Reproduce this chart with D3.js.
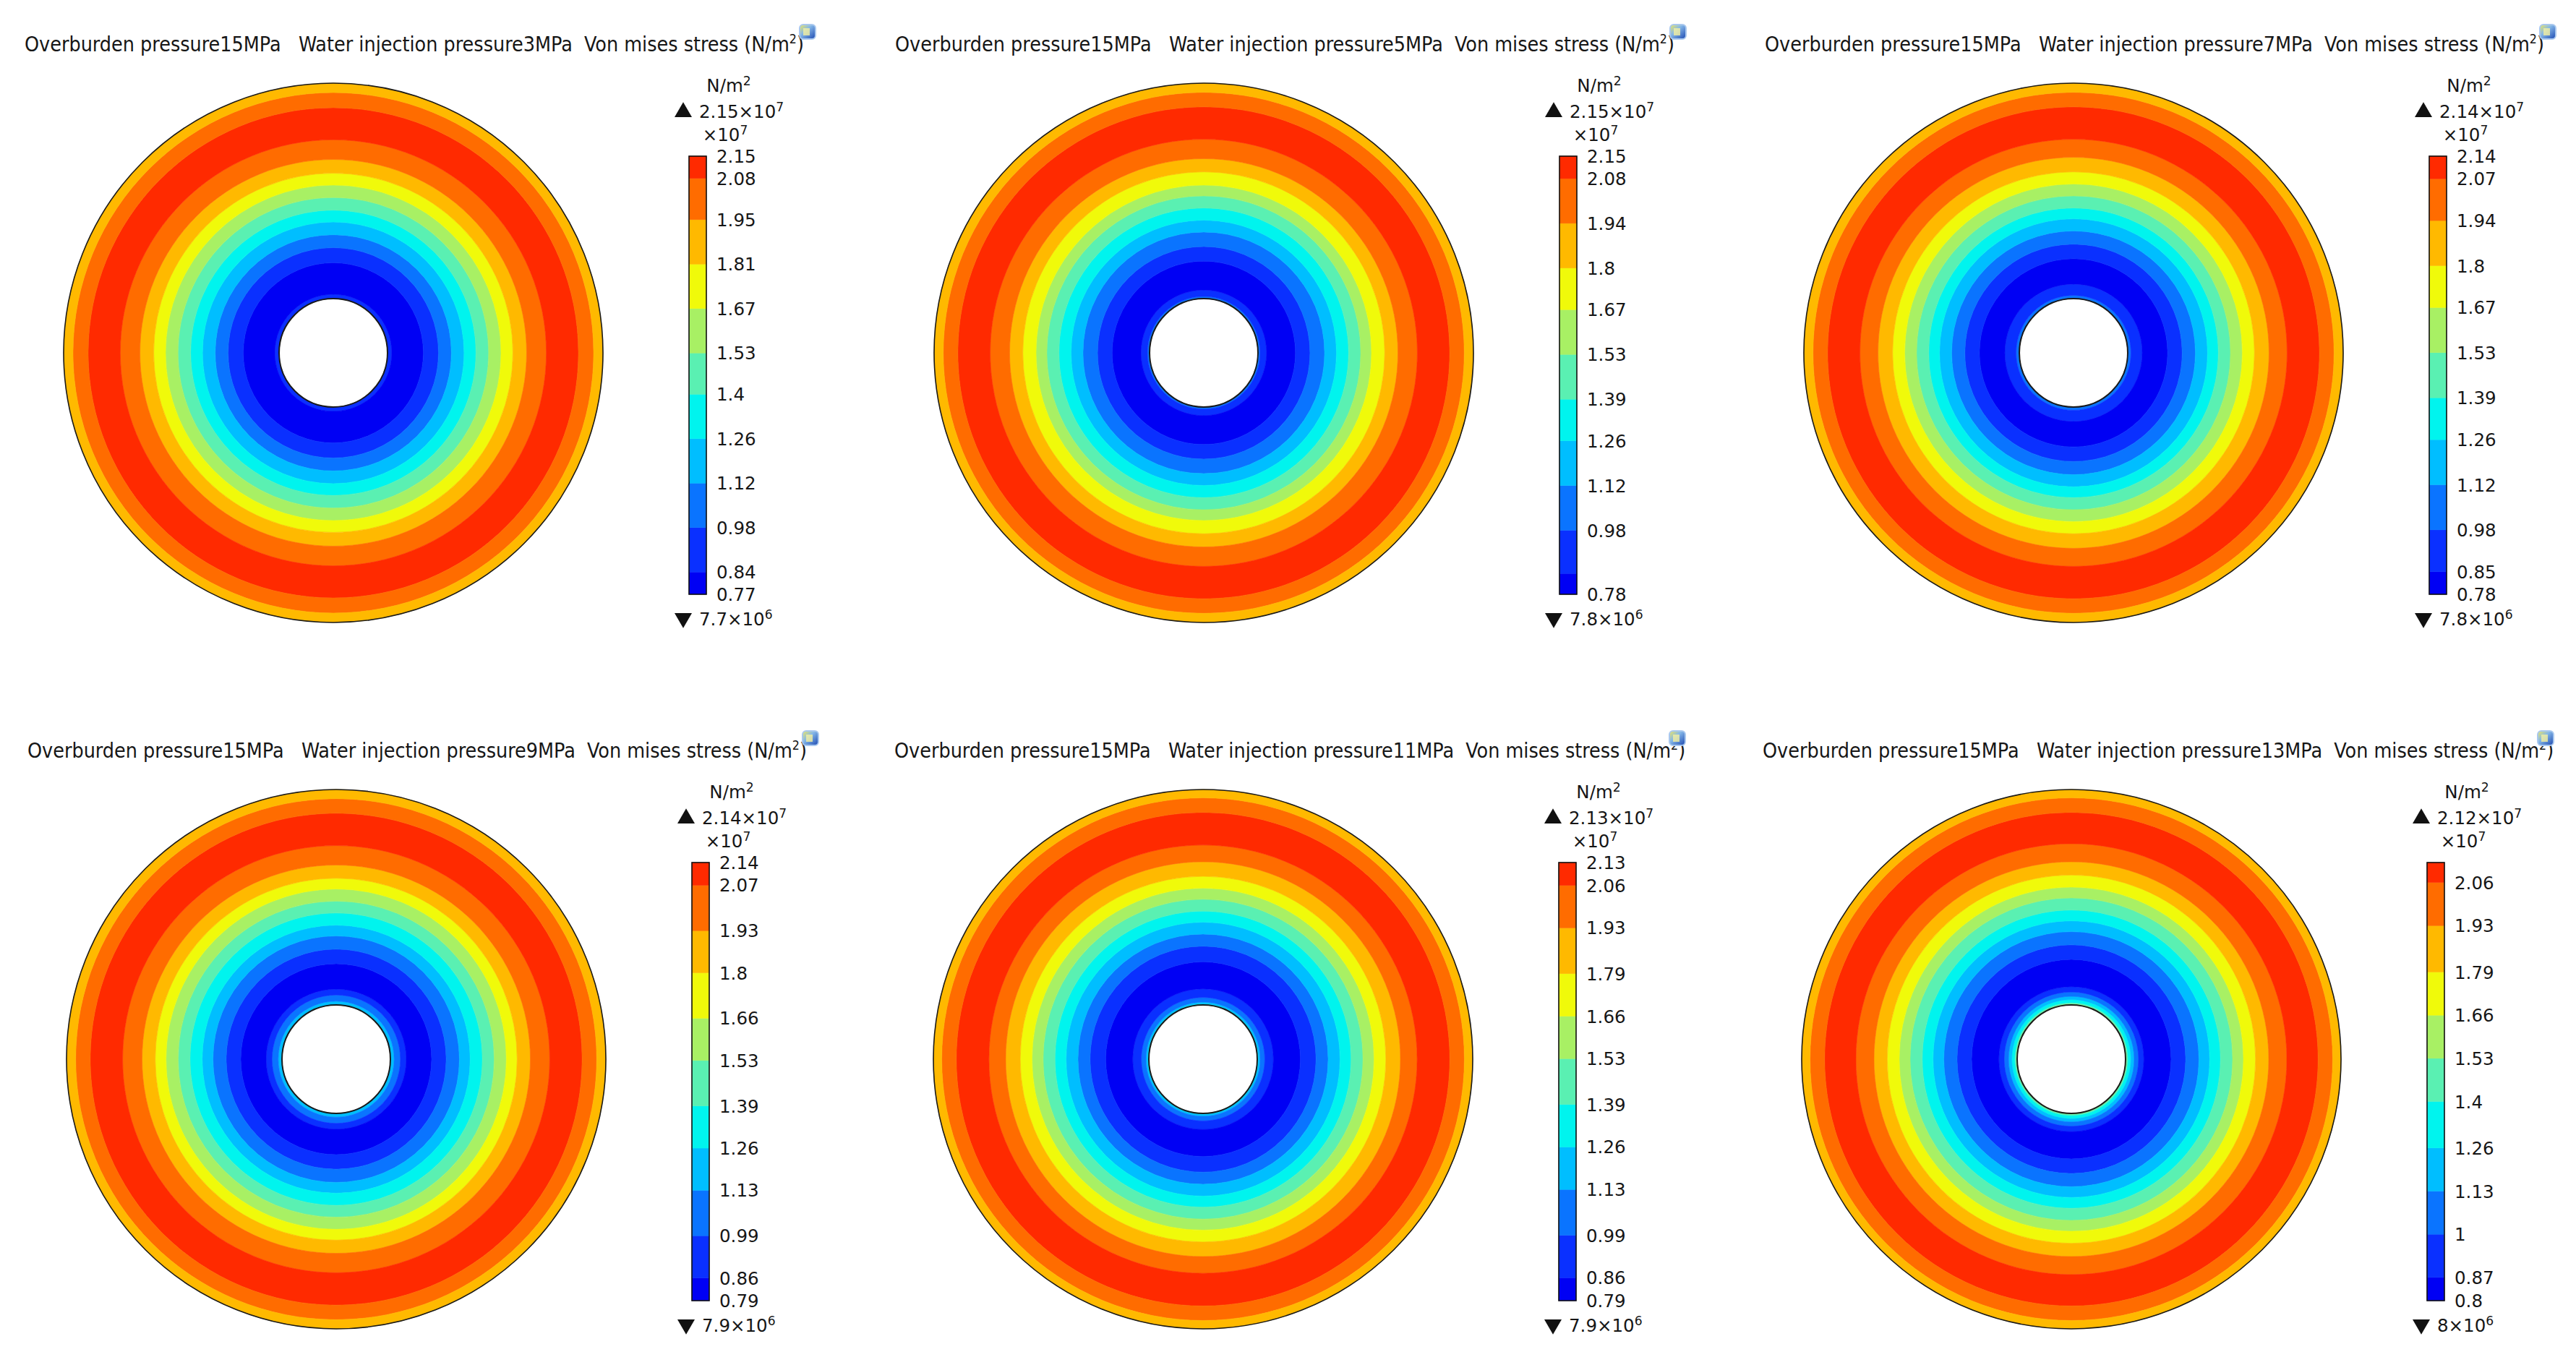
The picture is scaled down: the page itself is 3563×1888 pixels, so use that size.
<!DOCTYPE html>
<html>
<head>
<meta charset="utf-8">
<script src="https://cdn.jsdelivr.net/npm/d3@7"></script>
<style>
  html, body { margin: 0; padding: 0; background: #fff; }
  svg { display: block; }
  text { font-family: "DejaVu Sans", sans-serif; fill: #161616; }
  .title { font-family: "DejaVu Sans Condensed", "DejaVu Sans", sans-serif; font-stretch: condensed; font-size: 28.4px; white-space: pre; }
  .cb { font-size: 24.5px; }
</style>
</head>
<body>
<svg id="chart" width="3563" height="1888"></svg>
<script>
// overburden pressure and water injection pressure of each case (MPa)
const overburden = 15;
const injectionPressures = [3, 5, 7, 9, 11, 13];

// colour range of each plot (N/m^2)
const stressMax = [2.15e7, 2.15e7, 2.14e7, 2.14e7, 2.13e7, 2.12e7];
const stressMin = [7.7e6, 7.8e6, 7.8e6, 7.9e6, 7.9e6, 8e6];
const maxLabels = ["2.15", "2.15", "2.14", "2.14", "2.13", "2.12"];
const minLabels = ["7.7", "7.8", "7.8", "7.9", "7.9", "8"];

// contour levels (x10^7 N/m^2), 11 bands between min and max
const levels = [
  [0.84, 0.98, 1.12, 1.26, 1.40, 1.53, 1.67, 1.81, 1.95, 2.08],
  [0.845, 0.98, 1.12, 1.26, 1.39, 1.53, 1.67, 1.80, 1.94, 2.08],
  [0.85, 0.98, 1.12, 1.26, 1.39, 1.53, 1.67, 1.80, 1.94, 2.07],
  [0.86, 0.99, 1.13, 1.26, 1.39, 1.53, 1.66, 1.80, 1.93, 2.07],
  [0.86, 0.99, 1.13, 1.26, 1.39, 1.53, 1.66, 1.79, 1.93, 2.06],
  [0.87, 1.00, 1.13, 1.26, 1.40, 1.53, 1.66, 1.79, 1.93, 2.06],
];

// tick labels printed beside the colour bar
const tickLabels = [
  ["2.15", "2.08", "1.95", "1.81", "1.67", "1.53", "1.4", "1.26", "1.12", "0.98", "0.84", "0.77"],
  ["2.15", "2.08", "1.94", "1.8", "1.67", "1.53", "1.39", "1.26", "1.12", "0.98", "0.78"],
  ["2.14", "2.07", "1.94", "1.8", "1.67", "1.53", "1.39", "1.26", "1.12", "0.98", "0.85", "0.78"],
  ["2.14", "2.07", "1.93", "1.8", "1.66", "1.53", "1.39", "1.26", "1.13", "0.99", "0.86", "0.79"],
  ["2.13", "2.06", "1.93", "1.79", "1.66", "1.53", "1.39", "1.26", "1.13", "0.99", "0.86", "0.79"],
  ["2.06", "1.93", "1.79", "1.66", "1.53", "1.4", "1.26", "1.13", "1", "0.87", "0.8"],
];

// radial position of each contour edge (r / outer radius), hole edge first
const ringEdges = [
  [0.201, 0.217, 0.334, 0.390, 0.438, 0.485, 0.529, 0.576, 0.622, 0.666, 0.717, 0.790, 0.909, 0.965, 1],
  [0.201, 0.209, 0.233, 0.340, 0.394, 0.448, 0.492, 0.537, 0.582, 0.622, 0.671, 0.720, 0.792, 0.912, 0.966, 1],
  [0.201, 0.213, 0.255, 0.349, 0.403, 0.452, 0.497, 0.537, 0.582, 0.626, 0.671, 0.725, 0.792, 0.912, 0.966, 1],
  [0.201, 0.215, 0.238, 0.260, 0.354, 0.408, 0.457, 0.497, 0.542, 0.586, 0.631, 0.671, 0.720, 0.792, 0.912, 0.966, 1],
  [0.201, 0.205, 0.212, 0.229, 0.261, 0.361, 0.419, 0.464, 0.508, 0.549, 0.593, 0.634, 0.678, 0.732, 0.794, 0.915, 0.969, 1],
  [0.201, 0.205, 0.210, 0.221, 0.233, 0.249, 0.269, 0.370, 0.424, 0.473, 0.513, 0.553, 0.598, 0.638, 0.683, 0.732, 0.799, 0.915, 0.969, 1],
];
// colour band (0 = lowest) of each ring between those edges
const ringBands = [
  [1, 0, 1, 2, 3, 4, 5, 6, 7, 8, 9, 10, 9, 8],
  [2, 1, 0, 1, 2, 3, 4, 5, 6, 7, 8, 9, 10, 9, 8],
  [2, 1, 0, 1, 2, 3, 4, 5, 6, 7, 8, 9, 10, 9, 8],
  [3, 2, 1, 0, 1, 2, 3, 4, 5, 6, 7, 8, 9, 10, 9, 8],
  [4, 3, 2, 1, 0, 1, 2, 3, 4, 5, 6, 7, 8, 9, 10, 9, 8],
  [6, 5, 4, 3, 2, 1, 0, 1, 2, 3, 4, 5, 6, 7, 8, 9, 10, 9, 8],
];

const bandColors = [
  "#0000f4", "#0a30ff", "#0a74ff", "#00beff", "#00f4ee", "#5af0b2",
  "#a8f064", "#f0fa0a", "#ffb900", "#ff6c00", "#ff2a00",
];

// layout
const panelCenters = [
  [461, 488], [1665, 488], [2868, 488],
  [465, 1465], [1664, 1465], [2865, 1465],
];
const diskRadius = 373;

const svg = d3.select("#chart");

const defs = svg.append("defs");
const grad = defs.append("linearGradient").attr("id", "iconGrad")
  .attr("x1", "0").attr("y1", "0").attr("x2", "1").attr("y2", "1");
grad.append("stop").attr("offset", "0").attr("stop-color", "#f2ea5a");
grad.append("stop").attr("offset", "0.4").attr("stop-color", "#86b8e8");
grad.append("stop").attr("offset", "1").attr("stop-color", "#1a46b0");

const rScale = d3.scaleLinear().domain([0, 1]).range([0, diskRadius]);
const arc = d3.arc();

function sup(sel, base, exp) {
  sel.append("tspan").text(base);
  sel.append("tspan").attr("font-size", "0.7em").attr("dy", "-0.55em").text(exp);
}

injectionPressures.forEach((pw, k) => {
  const [cx, cy] = panelCenters[k];
  const g = svg.append("g");

  // title
  const title = g.append("text").attr("class", "title")
    .attr("x", cx - 427).attr("y", cy - 417);
  title.append("tspan")
    .text(`Overburden pressure${overburden}MPa   Water injection pressure${pw}MPa  Von mises stress (N/m`);
  title.append("tspan").attr("font-size", "0.62em").attr("dy", "-0.6em").text("2");
  title.append("tspan").attr("dy", "0.37em").text(")");

  // small plot icon
  g.append("rect")
    .attr("x", cx + 645).attr("y", cy - 454)
    .attr("width", 22).attr("height", 20).attr("rx", 5)
    .attr("fill", "url(#iconGrad)").attr("stroke", "#a9c8ee").attr("stroke-width", 2);
  g.append("rect")
    .attr("x", cx + 650).attr("y", cy - 449)
    .attr("width", 9).attr("height", 10)
    .attr("fill", "#f4f0a0").attr("opacity", 0.8);

  // disk contour rings
  const edges = ringEdges[k];
  const rings = ringBands[k].map((b, i) => ({
    inner: edges[i], outer: edges[i + 1], band: b,
  }));
  const disk = g.append("g").attr("transform", `translate(${cx},${cy})`);
  disk.selectAll("path.ring").data(rings).join("path")
    .attr("class", "ring")
    .attr("d", (d) => arc({
      innerRadius: rScale(d.inner), outerRadius: rScale(d.outer),
      startAngle: 0, endAngle: 2 * Math.PI,
    }))
    .attr("fill", (d) => bandColors[d.band])
    .attr("stroke", (d) => bandColors[d.band]).attr("stroke-width", 0.6);
  disk.append("circle").attr("r", rScale(1))
    .attr("fill", "none").attr("stroke", "#1a1a1a").attr("stroke-width", 1.6);
  disk.append("circle").attr("r", rScale(edges[0]))
    .attr("fill", "none")
    .attr("stroke", "#1a1a1a").attr("stroke-width", 2);

  // colour bar
  const bx = cx + 492, bw = 24;
  const top = cy - 272, bottom = cy + 334;
  const vmin = stressMin[k] / 1e7, vmax = stressMax[k] / 1e7;
  const y = d3.scaleLinear().domain([vmin, vmax]).range([bottom, top]);
  const bandEdges = [vmin, ...levels[k], vmax];
  const bands = d3.pairs(bandEdges).map(([a, b], i) => ({ a, b, i }));

  g.selectAll("rect.band").data(bands).join("rect")
    .attr("class", "band")
    .attr("x", bx).attr("width", bw)
    .attr("y", (d) => y(d.b)).attr("height", (d) => y(d.a) - y(d.b))
    .attr("fill", (d) => bandColors[d.i])
    .attr("stroke", (d) => bandColors[d.i]).attr("stroke-width", 0.5);
  g.append("rect").attr("x", bx).attr("y", top)
    .attr("width", bw).attr("height", bottom - top)
    .attr("fill", "none").attr("stroke", "#111").attr("stroke-width", 1.6);

  g.selectAll("text.tick").data(tickLabels[k]).join("text")
    .attr("class", "cb tick")
    .attr("x", bx + 38)
    .attr("y", (d) => y(+d) + 9)
    .text((d) => d);

  // unit and scale labels
  const unit = g.append("text").attr("class", "cb")
    .attr("x", bx + 55).attr("y", top - 89).attr("text-anchor", "middle");
  sup(unit, "N/m", "2");

  const mult = g.append("text").attr("class", "cb")
    .attr("x", bx + 50).attr("y", top - 21).attr("text-anchor", "middle");
  sup(mult, "\u00d710", "7");

  // max / min markers
  g.append("path")
    .attr("d", d3.symbol(d3.symbolTriangle, 250)())
    .attr("transform", `translate(${bx - 8},${top - 61})`)
    .attr("fill", "#111");
  const maxT = g.append("text").attr("class", "cb")
    .attr("x", bx + 14).attr("y", top - 53);
  sup(maxT, `${maxLabels[k]}\u00d710`, "7");

  g.append("path")
    .attr("d", d3.symbol(d3.symbolTriangle, 250)())
    .attr("transform", `translate(${bx - 8},${bottom + 33}) rotate(180)`)
    .attr("fill", "#111");
  const minT = g.append("text").attr("class", "cb")
    .attr("x", bx + 14).attr("y", bottom + 43);
  sup(minT, `${minLabels[k]}\u00d710`, "6");
});
</script>
</body>
</html>
